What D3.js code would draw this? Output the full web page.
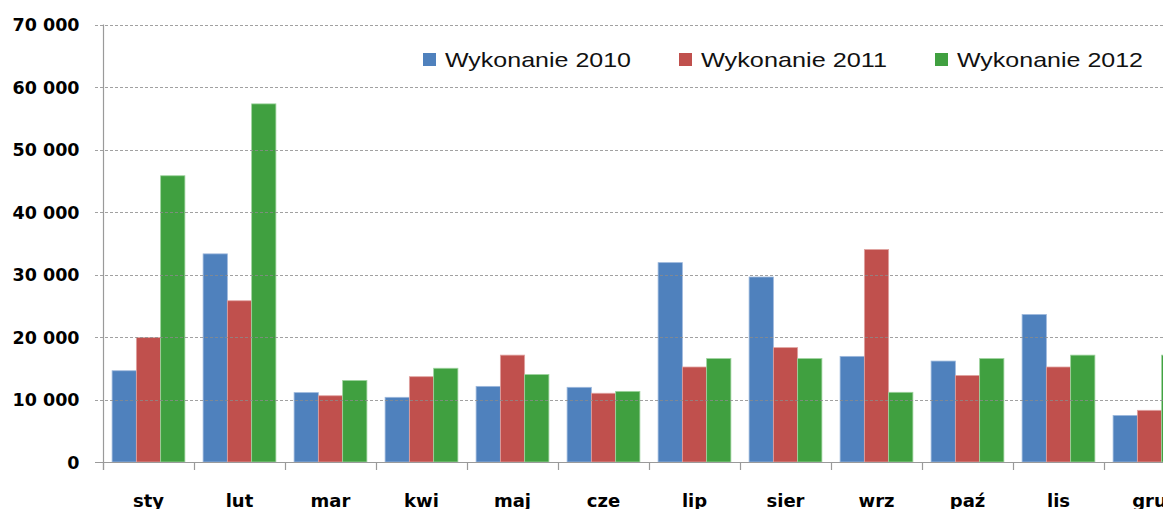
<!DOCTYPE html>
<html>
<head>
<meta charset="utf-8">
<script src="https://cdn.jsdelivr.net/npm/d3@7/dist/d3.min.js"></script>
<style>
  html, body { margin: 0; padding: 0; background: #fff; }
  svg { display: block; }
</style>
</head>
<body>
<svg id="chart" width="1163" height="509"></svg>
<script>
// Months (Polish abbreviations)
var months = ["sty", "lut", "mar", "kwi", "maj", "cze", "lip", "sier", "wrz", "paź", "lis", "gru"];

// Series values
var wyk2010 = [14600, 33300, 11100, 10350, 12100, 11950, 31900, 29600, 16900, 16150, 23600, 7450];
var wyk2011 = [19900, 25800, 10600, 13650, 17100, 11000, 15200, 18300, 34000, 13850, 15200, 8270];
var wyk2012 = [45800, 57300, 13050, 15000, 14000, 11300, 16550, 16550, 11150, 16550, 17100, 17100];

var seriesNames = ["Wykonanie 2010", "Wykonanie 2011", "Wykonanie 2012"];
var seriesColors = ["#4F81BD", "#C0504D", "#40A040"];
var seriesStroke = ["#9DB8DC", "#E0A3A1", "#9ED39E"];

var yTicks = [0, 10000, 20000, 30000, 40000, 50000, 60000, 70000];

var svg = d3.select("#chart");

// Plot area (runs past the right edge, like the cropped original)
var plotLeft = 103, plotStep = 91, plotBottom = 462, plotTop = 24.5;

var x = d3.scaleBand()
    .domain(months)
    .range([plotLeft, plotLeft + plotStep * months.length])
    .paddingInner(0.2)
    .paddingOuter(0.1);

var xs = d3.scaleBand()
    .domain(d3.range(seriesNames.length))
    .range([0, x.bandwidth()]);

var y = d3.scaleLinear()
    .domain([0, 70000])
    .range([plotBottom, plotTop]);

var allSeries = [wyk2010, wyk2011, wyk2012];

// Bars
var groups = svg.append("g").selectAll("g")
    .data(months)
    .enter().append("g")
    .attr("transform", function(d) { return "translate(" + x(d) + ",0)"; });

groups.selectAll("rect")
    .data(function(d, i) { return allSeries.map(function(s, k) { return { k: k, v: s[i] }; }); })
    .enter().append("rect")
    .attr("x", function(d) { return xs(d.k); })
    .attr("y", function(d) { return y(d.v); })
    .attr("width", xs.bandwidth())
    .attr("height", function(d) { return plotBottom - y(d.v); })
    .attr("fill", function(d) { return seriesColors[d.k]; })
    .attr("stroke", function(d) { return seriesStroke[d.k]; })
    .attr("stroke-width", 0.8);

// Dashed gridlines, drawn over the bars
svg.append("g").selectAll("line")
    .data(yTicks.filter(function(t) { return t > 0; }))
    .enter().append("line")
    .attr("x1", plotLeft - 8)
    .attr("x2", 1163)
    .attr("y1", function(d) { return Math.round(y(d)) + 0.5; })
    .attr("y2", function(d) { return Math.round(y(d)) + 0.5; })
    .attr("stroke", "#8a8a8a")
    .attr("stroke-opacity", 0.8)
    .attr("stroke-width", 1.2)
    .attr("stroke-dasharray", "3,2");

// Y axis
var fmt = function(d) {
    return d3.format(",")(d).replace(/,/g, " ");
};
var yAxis = svg.append("g")
    .attr("transform", "translate(" + (plotLeft + 0.5) + ",0)")
    .call(d3.axisLeft(y).tickValues(yTicks).tickSize(0).tickPadding(24).tickFormat(fmt));
yAxis.select(".domain").remove();
yAxis.selectAll("text")
    .attr("font-family", "DejaVu Sans, Verdana, sans-serif")
    .attr("font-weight", "bold")
    .attr("font-size", 17.5)
    .attr("fill", "#000")
    .attr("dy", "0.36em");

svg.append("line")
    .attr("x1", plotLeft + 0.5).attr("x2", plotLeft + 0.5)
    .attr("y1", plotTop).attr("y2", plotBottom + 8)
    .attr("stroke", "#9a9a9a").attr("stroke-width", 1.2);

// X axis
var xAxis = svg.append("g")
    .attr("transform", "translate(0," + (plotBottom + 0.5) + ")")
    .call(d3.axisBottom(x).tickSize(0).tickPadding(41));
xAxis.select(".domain").remove();
xAxis.selectAll("text")
    .attr("font-family", "DejaVu Sans, Verdana, sans-serif")
    .attr("font-weight", "bold")
    .attr("font-size", 18)
    .attr("fill", "#000")
    .attr("dy", "0.2em");

svg.append("line")
    .attr("x1", plotLeft - 8).attr("x2", 1163)
    .attr("y1", plotBottom + 0.5).attr("y2", plotBottom + 0.5)
    .attr("stroke", "#9a9a9a").attr("stroke-width", 1.2);

// Category boundary ticks
svg.append("g").selectAll("line")
    .data(d3.range(months.length + 1))
    .enter().append("line")
    .attr("x1", function(i) { return plotLeft + i * x.step() + 0.5; })
    .attr("x2", function(i) { return plotLeft + i * x.step() + 0.5; })
    .attr("y1", plotBottom)
    .attr("y2", plotBottom + 8)
    .attr("stroke", "#9a9a9a")
    .attr("stroke-width", 1.2);

// Legend
var legend = svg.append("g").selectAll("g")
    .data(seriesNames)
    .enter().append("g")
    .attr("transform", function(d, i) { return "translate(" + (423 + i * 256) + ",53)"; });

legend.append("rect")
    .attr("width", 13)
    .attr("height", 13)
    .attr("fill", function(d, i) { return seriesColors[i]; });

legend.append("text")
    .attr("x", 22)
    .attr("y", 13.5)
    .attr("font-family", "Liberation Sans, Arial, sans-serif")
    .attr("font-size", 21)
    .attr("fill", "#111")
    .attr("textLength", 186)
    .attr("lengthAdjust", "spacingAndGlyphs")
    .text(function(d) { return d; });
</script>
</body>
</html>
